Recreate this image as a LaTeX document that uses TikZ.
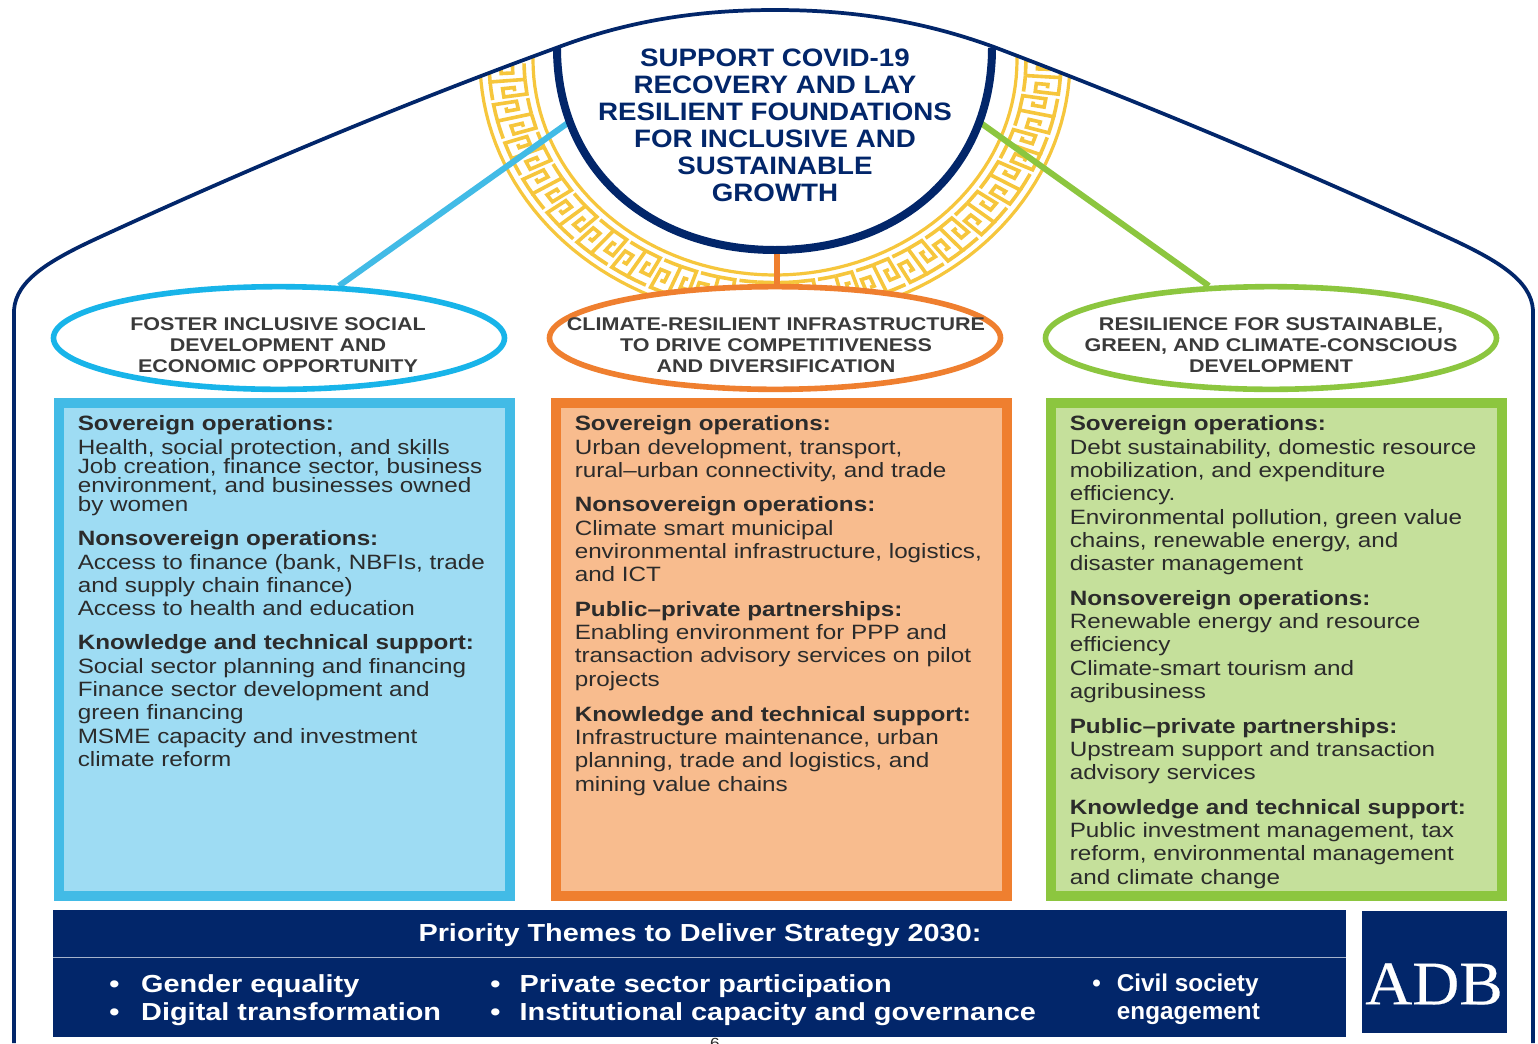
\documentclass[tikz,border=0pt]{standalone}
\usepackage{fontspec}
\setmainfont{Liberation Sans}[FakeStretch=1.17]
\newfontfamily\goalf{Liberation Sans}[FakeStretch=1.1]
\newfontfamily\civilf{Liberation Sans}[FakeStretch=1.0]
\newfontfamily\logof{Liberation Serif}[FakeStretch=1.05,FakeBold=0.35]
\usetikzlibrary{shapes.geometric,backgrounds}
\definecolor{navy}{HTML}{02266A}
\definecolor{goldk}{HTML}{F6C63C}
\definecolor{cy}{HTML}{42BBE6}
\definecolor{cye}{HTML}{18B4E9}
\definecolor{cyf}{HTML}{9EDCF3}
\definecolor{orn}{HTML}{EF7F2F}
\definecolor{ornf}{HTML}{F8BC8E}
\definecolor{grn}{HTML}{8CC63F}
\definecolor{grnf}{HTML}{C5E09B}
\definecolor{ink}{HTML}{2B2B2B}
\definecolor{inkh}{HTML}{3A3A3A}
\tikzset{
  pillar/.style={ellipse,draw=#1,line width=4.2pt,fill=white,minimum width=338.25pt,minimum height=77pt,inner sep=0pt},
  pillartext/.style={align=center,inner sep=0pt,font=\fontsize{13.8}{15.75}\selectfont\bfseries,text=inkh},
  panel/.style 2 args={rectangle,draw=#1,fill=#2,line width=7.5pt,minimum width=338pt,minimum height=370pt,inner sep=0pt},
  body/.style={anchor=north west,align=left,inner sep=0pt,text=ink,font=\fontsize{15.55}{17.5}\selectfont},
  link/.style={line width=4.5pt,draw=#1},
  barhead/.style={text=white,inner sep=0pt,font=\fontsize{18.5}{20}\selectfont\bfseries},
  baritem/.style={anchor=north west,align=left,text=white,inner sep=0pt,font=\fontsize{18.5}{21}\selectfont\bfseries},
  key/.style={draw=goldk,line width=2.7pt,line join=miter},
  rail/.style={draw=goldk,line width=2.4pt},
  declare function={mx(\t,\r)=775+(242+53*\r)*cos(\t); my(\t,\r)=60+(215+45*\r)*sin(\t);}
}
\newcommand{\hd}[1]{\rule{0pt}{12pt}\textbf{#1}}
\newcommand{\KP}[2]{({mx(\T+#1*\dT,#2)},{my(\T+#1*\dT,#2)})}
\newcommand{\roofline}{(eaveL) .. controls (16,280) and (50,260) .. (100,237) .. controls (250,168) and (400,105) .. (shL) .. controls (630,20) and (700,10) .. (apex) .. controls (850,10) and (920,20) .. (shR) .. controls (1147,105) and (1297,168) .. (1447,237) .. controls (1497,260) and (1531,280) .. (eaveR)}
\begin{document}
\begin{tikzpicture}[x=0.75pt,y=-0.75pt]
\useasboundingbox (0,0) rectangle (1538,1043);
% named roof points
\coordinate (wallL) at (14,1043);
\coordinate (eaveL) at (14,310);
\coordinate (shL) at (556,48);
\coordinate (apex) at (775,10);
\coordinate (shR) at (994,47);
\coordinate (eaveR) at (1533,310);
\coordinate (wallR) at (1533,1043);
% connector ends on the goal arc
\coordinate (goalL) at (572,120);
\coordinate (goalR) at (978,121);
\coordinate (goalB) at (777,250);
% pillars
\node[pillar=cye] (e1) at (279,338) {};
\node[pillar=orn] (e2) at (775,338) {};
\node[pillar=grn] (e3) at (1271,338) {};
\begin{scope}[on background layer]
\fill[white] (0,0) rectangle (1538,1043);
\begin{scope}
\clip \roofline -- cycle;
\draw[rail] plot[domain=-14:194,samples=90] ({mx(\x,1)},{my(\x,1)});
\draw[rail] plot[domain=-14:194,samples=90] ({mx(\x,0)},{my(\x,0)});
\pgfmathsetmacro{\dT}{9}
\foreach \k in {0,...,23}{
  \pgfmathsetmacro{\T}{-14+\k*\dT}
  \draw[key] \KP{0}{.17} -- \KP{0}{.83} -- \KP{.2}{.83} -- \KP{.42}{.83} -- \KP{.42}{.39} -- \KP{.2}{.39} -- \KP{.2}{.61} -- \KP{.3}{.61};
  \draw[key] \KP{0}{.17} -- \KP{.2}{.17} -- \KP{.46}{.17};
  \draw[key] \KP{1}{.83} -- \KP{.8}{.83} -- \KP{.54}{.83};
  \draw[key] \KP{1}{.17} -- \KP{.58}{.17} -- \KP{.58}{.61} -- \KP{.8}{.61} -- \KP{.8}{.39} -- \KP{.7}{.39};
}
\end{scope}
\draw[navy,line width=2.8pt,line join=round] (wallL) -- \roofline -- (wallR);
\draw[link=cy] (goalL) -- (e1.41);
\draw[link=grn] (goalR) -- (e3.140);
\draw[link=orn] (goalB) -- (goalB |- e2.north);
\end{scope}
\node[pillartext] (t1) at (278,345.5) {FOSTER INCLUSIVE SOCIAL\\DEVELOPMENT AND\\ECONOMIC OPPORTUNITY};
\node[pillartext] (t2) at (776,345.5) {CLIMATE-RESILIENT INFRASTRUCTURE\\TO DRIVE COMPETITIVENESS\\AND DIVERSIFICATION};
\node[pillartext] (t3) at (1271,345.5) {RESILIENCE FOR SUSTAINABLE,\\GREEN, AND CLIMATE-CONSCIOUS\\DEVELOPMENT};
% goal
\fill[white] (557,48) .. controls (557,170) and (650,250) .. (775,250) .. controls (900,250) and (992,170) .. (992,48) -- cycle;
\draw[navy,line width=6pt] (557,48) .. controls (557,170) and (650,250) .. (775,250) .. controls (900,250) and (992,170) .. (992,48);
\node[align=center,inner sep=0pt,text=navy,font=\goalf\fontsize{18.9}{20.25}\selectfont\bfseries] (goal) at (775,125) {SUPPORT COVID-19\\RECOVERY AND LAY\\RESILIENT FOUNDATIONS\\FOR INCLUSIVE AND\\SUSTAINABLE\\GROWTH};
% panels
\node[panel={cy}{cyf}] (p1) at (284.5,649.5) {};
\node[panel={orn}{ornf}] (p2) at (781.5,649.5) {};
\node[panel={grn}{grnf}] (p3) at (1276.5,649.5) {};
% panel 1
\node[body] (a1) at (77.5,414.5) {\hd{Sovereign operations:}\\Health, social protection, and skills\\[-3.2pt]Job creation, finance sector, business\\[-3.2pt]environment, and businesses owned\\[-3.2pt]by women};
\node[body] (a2) at (77.5,529.5) {\hd{Nonsovereign operations:}\\Access to finance (bank, NBFIs, trade\\and supply chain finance)\\Access to health and education};
\node[body] (a3) at (77.5,633.5) {\hd{Knowledge and technical support:}\\Social sector planning and financing\\Finance sector development and\\green financing\\MSME capacity and investment\\climate reform};
% panel 2
\node[body] (b1) at (574.5,414.5) {\hd{Sovereign operations:}\\Urban development, transport,\\rural--urban connectivity, and trade};
\node[body] (b2) at (574.5,495.5) {\hd{Nonsovereign operations:}\\Climate smart municipal\\environmental infrastructure, logistics,\\and ICT};
\node[body] (b3) at (574.5,600) {\hd{Public--private partnerships:}\\Enabling environment for PPP and\\transaction advisory services on pilot\\projects};
\node[body] (b4) at (574.5,705) {\hd{Knowledge and technical support:}\\Infrastructure maintenance, urban\\planning, trade and logistics, and\\mining value chains};
% panel 3
\node[body] (c1) at (1069.5,414.5) {\hd{Sovereign operations:}\\Debt sustainability, domestic resource\\mobilization, and expenditure\\efficiency.\\Environmental pollution, green value\\chains, renewable energy, and\\disaster management};
\node[body] (c2) at (1069.5,589) {\hd{Nonsovereign operations:}\\Renewable energy and resource\\efficiency\\Climate-smart tourism and\\agribusiness};
\node[body] (c3) at (1069.5,717) {\hd{Public--private partnerships:}\\Upstream support and transaction\\advisory services};
\node[body] (c4) at (1069.5,798) {\hd{Knowledge and technical support:}\\Public investment management, tax\\reform, environmental management\\and climate change};
% bar
\node[rectangle,fill=navy,minimum width=969.75pt,minimum height=95.25pt,inner sep=0pt] (bar) at (699.5,973.5) {};
\coordinate (ruleL) at (53,957.5);
\coordinate (ruleR) at (1346,957.5);
\draw[draw=white!65!navy,line width=1.2pt] (ruleL) -- (ruleR);
\node[barhead] (barh) at (700,935) {Priority Themes to Deliver Strategy 2030:};
\node[baritem] (g1) at (109,974) {\makebox[24pt][l]{•}Gender equality\\\makebox[24pt][l]{•}Digital transformation};
\node[baritem] (g2) at (490,974) {\makebox[22pt][l]{•}Private sector participation\\\makebox[22pt][l]{•}Institutional capacity and governance};
\node[baritem,font=\civilf\fontsize{18.2}{21}\selectfont\bfseries] (g3) at (1092,974) {\makebox[18.5pt][l]{•}Civil society\\\makebox[18.5pt][l]{}engagement};
\node[rectangle,fill=navy,minimum width=108.75pt,minimum height=91.5pt,inner sep=0pt] (logo) at (1434.5,972) {};
\node[text=white,inner sep=0pt,font=\logof\fontsize{46.5}{46}\selectfont] (logot) at (1434,984) {ADB};
\node[text=ink,inner sep=0pt,font=\fontsize{11}{12}\selectfont] (pg) at (715,1043) {6};
\end{tikzpicture}
\end{document}
